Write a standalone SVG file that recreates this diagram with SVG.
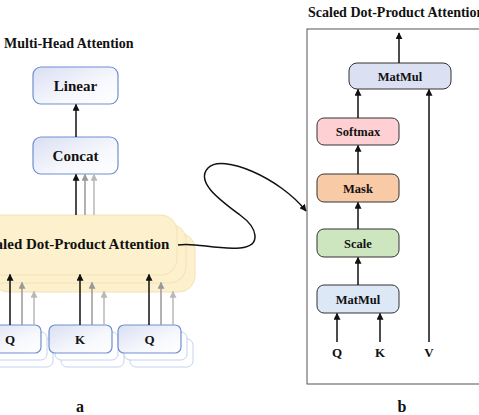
<svg xmlns="http://www.w3.org/2000/svg" width="479" height="415" viewBox="0 0 479 415">
<defs>
<linearGradient id="gb" x1="0" y1="0" x2="1" y2="1">
<stop offset="0" stop-color="#d9dff2"/>
<stop offset="0.6" stop-color="#f7f8fd"/>
<stop offset="1" stop-color="#ffffff"/>
</linearGradient>
<marker id="ak" viewBox="0 0 10 10" refX="9" refY="5" markerWidth="7" markerHeight="7" orient="auto" markerUnits="userSpaceOnUse"><path d="M0,0 L10,5 L0,10 z" fill="#111"/></marker>
<marker id="ag" viewBox="0 0 10 10" refX="9" refY="5" markerWidth="7" markerHeight="7" orient="auto" markerUnits="userSpaceOnUse"><path d="M0,0 L10,5 L0,10 z" fill="#999"/></marker>
<marker id="al" viewBox="0 0 10 10" refX="9" refY="5" markerWidth="7" markerHeight="7" orient="auto" markerUnits="userSpaceOnUse"><path d="M0,0 L10,5 L0,10 z" fill="#b8b8b8"/></marker>
</defs>
<style>
text{font-family:"Liberation Serif","Times New Roman",serif;font-weight:bold;fill:#111;text-anchor:middle}
.title{text-anchor:start;font-size:14px}
.lb{font-size:15px}
.sm{font-size:13px}
.rb{font-size:12.5px}
.blue{fill:url(#gb);stroke:#6f8fcf;stroke-width:1.2}
.blueb{fill:#ffffff;stroke:#c5d2ee;stroke-width:1}
.yel{fill:#fdf0cc;stroke:#f2e2b6;stroke-width:1}
.rn{stroke:#333;stroke-width:1}
.k{stroke:#111;stroke-width:1.5;fill:none;marker-end:url(#ak)}
.g{stroke:#999;stroke-width:1.5;fill:none;marker-end:url(#ag)}
.l{stroke:#b8b8b8;stroke-width:1.5;fill:none;marker-end:url(#al)}
</style>

<text class="title" x="4" y="48">Multi-Head Attention</text>
<text class="title" x="308" y="17">Scaled Dot-Product Attention</text>

<g id="linear"><rect class="blue" x="33" y="67" width="85" height="37" rx="8"/><text class="lb" x="75.5" y="90.5">Linear</text></g>
<g id="concat"><rect class="blue" x="33" y="137" width="85" height="37" rx="8"/><text class="lb" x="75.5" y="160.5">Concat</text></g>

<g id="attention">
<rect class="yel" x="-8" y="233" width="203" height="59" rx="16"/>
<rect class="yel" x="-17" y="224" width="203" height="59" rx="16"/>
<rect class="yel" x="-26" y="215" width="203" height="60" rx="16"/>
<text x="75" y="249" style="font-size:15px">Scaled Dot-Product Attention</text>
</g>

<g id="q1"><rect class="blueb" x="-9" y="339" width="62" height="28" rx="6"/><rect class="blueb" x="-15" y="332" width="62" height="28" rx="6"/><rect class="blue" x="-21" y="325" width="62" height="28" rx="6"/><text class="sm" x="10" y="344">Q</text></g>
<g id="k1"><rect class="blueb" x="61" y="339" width="63" height="28" rx="6"/><rect class="blueb" x="55" y="332" width="63" height="28" rx="6"/><rect class="blue" x="49" y="325" width="63" height="28" rx="6"/><text class="sm" x="80" y="344">K</text></g>
<g id="q2"><rect class="blueb" x="130" y="339" width="63" height="28" rx="6"/><rect class="blueb" x="124" y="332" width="63" height="28" rx="6"/><rect class="blue" x="118" y="325" width="63" height="28" rx="6"/><text class="sm" x="149.5" y="344">Q</text></g>

<g id="frame"><rect x="307" y="29" width="200" height="355" fill="none" stroke="#555" stroke-width="1"/></g>

<g id="matmul-top"><rect class="rn" x="349" y="63" width="102" height="26" rx="8" fill="#dbe0f3"/><text class="rb" x="400" y="80.5">MatMul</text></g>
<g id="softmax"><rect class="rn" x="317" y="118" width="82" height="27" rx="7" fill="#ffd0d3"/><text class="rb" x="358" y="136">Softmax</text></g>
<g id="mask"><rect class="rn" x="317" y="174" width="82" height="28" rx="7" fill="#f9caa6"/><text class="rb" x="358" y="192.5">Mask</text></g>
<g id="scale"><rect class="rn" x="317" y="229" width="82" height="28" rx="7" fill="#cde6c0"/><text class="rb" x="358" y="247.5">Scale</text></g>
<g id="matmul-bottom"><rect class="rn" x="317" y="285" width="82" height="28" rx="7" fill="#dce8f5"/><text class="rb" x="358" y="303.5">MatMul</text></g>

<text class="sm" x="337" y="357">Q</text>
<text class="sm" x="380" y="357">K</text>
<text class="sm" x="429" y="357">V</text>

<text x="80" y="412" style="font-size:16px">a</text>
<text x="402" y="412" style="font-size:16px">b</text>

<g id="connectors">
<line class="k" x1="76" y1="137" x2="76" y2="104.5"/>
<line class="l" x1="94" y1="215" x2="94" y2="174.5"/>
<line class="g" x1="85" y1="215" x2="85" y2="174.5"/>
<line class="k" x1="76" y1="215" x2="76" y2="174.5"/>

<line class="l" x1="34" y1="325" x2="34" y2="291.5"/>
<line class="g" x1="22" y1="325" x2="22" y2="282.5"/>
<line class="k" x1="10" y1="325" x2="10" y2="274.5"/>
<line class="l" x1="104" y1="325" x2="104" y2="291.5"/>
<line class="g" x1="92" y1="325" x2="92" y2="282.5"/>
<line class="k" x1="80" y1="325" x2="80" y2="274.5"/>
<line class="l" x1="173" y1="325" x2="173" y2="291.5"/>
<line class="g" x1="161" y1="325" x2="161" y2="282.5"/>
<line class="k" x1="149" y1="325" x2="149" y2="274.5"/>

<path class="k" d="M178,245 C195,242 215,250 240,248 C262,246 258,228 240,215 C220,200 195,182 208,168 C222,153 280,178 306,211"/>

<line class="k" x1="399" y1="63" x2="399" y2="33"/>
<line class="k" x1="358" y1="118" x2="358" y2="89.5"/>
<line class="k" x1="358" y1="174" x2="358" y2="145.5"/>
<line class="k" x1="358" y1="229" x2="358" y2="202.5"/>
<line class="k" x1="358" y1="285" x2="358" y2="257.5"/>
<line class="k" x1="337" y1="342" x2="337" y2="313.5"/>
<line class="k" x1="380" y1="342" x2="380" y2="313.5"/>
<line class="k" x1="429" y1="342" x2="429" y2="89.5"/>
</g>
</svg>
